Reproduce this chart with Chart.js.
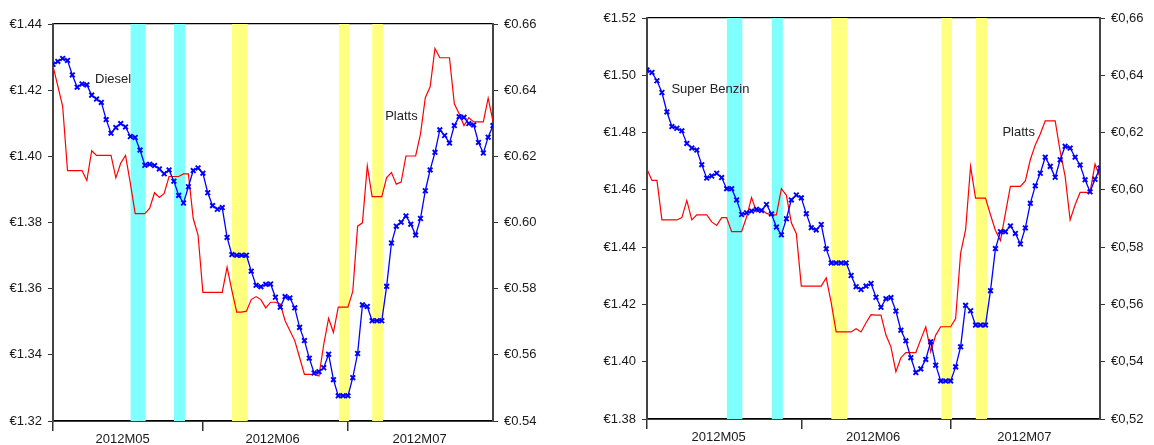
<!DOCTYPE html>
<html>
<head>
<meta charset="utf-8">
<script src="https://cdn.jsdelivr.net/npm/chart.js@4.4.0/dist/chart.umd.min.js"></script>
<style>
  body { margin: 0; background: #fff; width: 1154px; height: 445px; overflow: hidden; position: relative; }
  canvas { position: absolute; top: 0; }
  #diesel { left: 0; }
  #benzin { left: 580px; }
</style>
</head>
<body>
<canvas id="diesel" width="560" height="445"></canvas>
<canvas id="benzin" width="574" height="445"></canvas>
<script>
// days counted from 2012-05-01 (index 0) to 2012-07-31 (index 91)
const monthLabels = ['2012M05', '2012M06', '2012M07']
const monthStarts = [0, 31, 61]
const monthMids = [14.4, 45.4, 75.8]
const lastDay = 91

// pump prices (left axis), daily
const dieselPump = [
  1.4278, 1.4287, 1.4296, 1.4290, 1.4246, 1.4209, 1.4219, 1.4216, 1.4185, 1.4173,
  1.4163, 1.4111, 1.4070, 1.4087, 1.4099, 1.4089, 1.4060, 1.4057, 1.4019, 1.3973,
  1.3976, 1.3972, 1.3962, 1.3947, 1.3959, 1.3925, 1.3882, 1.3859, 1.3908, 1.3957,
  1.3965, 1.3949, 1.3890, 1.3851, 1.3840, 1.3845, 1.3755, 1.3703, 1.3701, 1.3701,
  1.3701, 1.3653, 1.3610, 1.3606, 1.3613, 1.3614, 1.3574, 1.3544, 1.3576, 1.3572,
  1.3542, 1.3483, 1.3443, 1.3390, 1.3345, 1.3349, 1.3361, 1.3402, 1.3325, 1.3276,
  1.3276, 1.3276, 1.3331, 1.3404, 1.3551, 1.3546, 1.3503, 1.3503, 1.3503, 1.3607,
  1.3738, 1.3789, 1.3801, 1.3820, 1.3795, 1.3762, 1.3812, 1.3896, 1.3959, 1.4012,
  1.4080, 1.4063, 1.4040, 1.4093, 1.4120, 1.4118, 1.4099, 1.4095, 1.4042, 1.4010,
  1.4058, 1.4093
]
const benzinPump = [
  1.5018, 1.5010, 1.4981, 1.4940, 1.4872, 1.4821, 1.4815, 1.4806, 1.4762, 1.4746,
  1.4739, 1.4688, 1.4641, 1.4648, 1.4658, 1.4643, 1.4604, 1.4604, 1.4565, 1.4514,
  1.4520, 1.4526, 1.4532, 1.4528, 1.4549, 1.4516, 1.4470, 1.4443, 1.4499, 1.4565,
  1.4582, 1.4572, 1.4517, 1.4468, 1.4460, 1.4479, 1.4394, 1.4345, 1.4345, 1.4345,
  1.4345, 1.4301, 1.4262, 1.4252, 1.4264, 1.4273, 1.4225, 1.4190, 1.4220, 1.4224,
  1.4177, 1.4110, 1.4073, 1.4014, 1.3962, 1.3975, 1.4008, 1.4070, 1.3988, 1.3933,
  1.3933, 1.3933, 1.3982, 1.4052, 1.4197, 1.4178, 1.4128, 1.4128, 1.4128, 1.4248,
  1.4395, 1.4454, 1.4454, 1.4474, 1.4448, 1.4411, 1.4467, 1.4553, 1.4614, 1.4658,
  1.4714, 1.4682, 1.4644, 1.4705, 1.4752, 1.4746, 1.4714, 1.4687, 1.4635, 1.4593,
  1.4637, 1.4676
]

// Platts quotes (right axis)
const dieselPlatts = [
  0.6473, 0.6412, 0.6351, 0.6157, 0.6157, 0.6157, 0.6157, 0.6127, 0.6217, 0.6203,
  0.6203, 0.6203, 0.6203, 0.6135, 0.6179, 0.6203, 0.6118, 0.6027, 0.6027, 0.6027,
  0.6043, 0.6090, 0.6076, 0.6088, 0.6139, 0.6139, 0.6139, 0.6147, 0.6147, 0.6012,
  0.5962, 0.5789, 0.5789, 0.5789, 0.5789, 0.5789, 0.5865, 0.5794, 0.5729, 0.5729,
  0.5732, 0.5767, 0.5776, 0.5767, 0.5742, 0.5759, 0.5759, 0.5754, 0.5703, 0.5673,
  0.5643, 0.5592, 0.5541, 0.5541, 0.5541, 0.5536, 0.5632, 0.5710, 0.5668, 0.5744,
  0.5744, 0.5744, 0.5792, 0.5989, 0.5999, 0.6171, 0.6078, 0.6078, 0.6078, 0.6136,
  0.6151, 0.6116, 0.6122, 0.6201, 0.6201, 0.6201, 0.6267, 0.6377, 0.6410, 0.6526,
  0.6498, 0.6498, 0.6498, 0.6359, 0.6329, 0.6293, 0.6317, 0.6304, 0.6304, 0.6304,
  0.6376, 0.6306
]
const benzinPlatts = [
  0.6072, 0.6033, 0.6033, 0.5895, 0.5895, 0.5895, 0.5895, 0.5903, 0.5963, 0.5895,
  0.5913, 0.5913, 0.5913, 0.5888, 0.5876, 0.5903, 0.5903, 0.5854, 0.5854, 0.5854,
  0.5905, 0.5973, 0.5923, 0.5932, 0.5918, 0.5913, 0.5913, 0.6004, 0.5981, 0.5885,
  0.5847, 0.5664, 0.5664, 0.5664, 0.5664, 0.5664, 0.5693, 0.5606, 0.5504, 0.5504,
  0.5504, 0.5504, 0.5515, 0.5504, 0.5536, 0.5564, 0.5563, 0.5563, 0.5493, 0.5452,
  0.5365, 0.5414, 0.5432, 0.5432, 0.5432, 0.5478, 0.5522, 0.5435, 0.5493, 0.5522,
  0.5522, 0.5522, 0.5551, 0.5779, 0.5860, 0.6082, 0.5971, 0.5971, 0.5971, 0.5913,
  0.5858, 0.5823, 0.5918, 0.6012, 0.6012, 0.6012, 0.6031, 0.6105, 0.6157, 0.6195,
  0.6241, 0.6241, 0.6241, 0.6134, 0.6047, 0.5895, 0.5948, 0.5991, 0.5991, 0.5991,
  0.6090, 0.6044
]

// shaded periods, in day index
const cyanStart = [16, 25]
const cyanEnd = [19.2, 27.3]
const yellowStart = [37, 59.1, 66]
const yellowEnd = [40.3, 61.3, 68.3]

const FONT = '"Liberation Sans", Arial, sans-serif'
const TEXT = '#1a1a1a'
Chart.defaults.font.family = FONT

const notes = {
    id: 'notes',
    afterDatasetsDraw(chart, args, opts) {
        const { ctx, scales } = chart
        ctx.save()
        ctx.font = '13px ' + FONT
        ctx.fillStyle = '#222'
        ctx.textBaseline = 'middle'
        opts.items.forEach(n => {
            ctx.fillText(n.text, scales.x.getPixelForValue(n.day), scales.y.getPixelForValue(n.value))
        })
        ctx.restore()
    }
}

function band(start, end, color, top) {
    return {
        type: 'line',
        data: [{ x: start, y: top }, { x: end, y: top }],
        yAxisID: 'y',
        fill: 'start',
        backgroundColor: color,
        borderColor: 'rgba(0,0,0,0)',
        borderWidth: 0,
        pointRadius: 0,
        order: 10
    }
}

function makeChart(canvas, s) {
    const bands = []
    cyanStart.forEach((v, k) => bands.push(band(v, cyanEnd[k], '#80ffff', s.leftMax)))
    yellowStart.forEach((v, k) => bands.push(band(v, yellowEnd[k], '#ffff80', s.leftMax)))

    const ticksSorted = monthStarts.concat(monthMids).sort((a, b) => a - b)

    return new Chart(canvas, {
        type: 'line',
        data: {
            datasets: [
                ...bands,
                {
                    label: 'Platts',
                    data: s.platts.map((v, i) => ({ x: i, y: v })),
                    yAxisID: 'y1',
                    borderColor: '#ff0000',
                    borderWidth: 1.2,
                    pointRadius: 0,
                    tension: 0,
                    order: 2
                },
                {
                    label: s.name,
                    data: s.pump.map((v, i) => ({ x: i, y: v })),
                    yAxisID: 'y',
                    borderColor: '#0000ff',
                    borderWidth: 1.3,
                    pointStyle: 'crossRot',
                    pointRadius: 3.3,
                    pointBorderWidth: 1.9,
                    pointBorderColor: '#0000ff',
                    tension: 0,
                    order: 1
                }
            ]
        },
        options: {
            responsive: false,
            animation: false,
            layout: { padding: { top: s.top, left: 0, right: 0, bottom: 0 } },
            plugins: {
                legend: { display: false },
                tooltip: { enabled: false },
                notes: { items: s.notes }
            },
            scales: {
                x: {
                    type: 'linear',
                    min: 0,
                    max: lastDay,
                    afterBuildTicks: sc => { sc.ticks = ticksSorted.map(v => ({ value: v })) },
                    ticks: {
                        autoSkip: false,
                        maxRotation: 0,
                        padding: 1,
                        color: TEXT,
                        font: { size: 13 },
                        callback: v => {
                            const k = monthMids.indexOf(v)
                            return k < 0 ? '' : monthLabels[k]
                        }
                    },
                    grid: {
                        drawOnChartArea: false,
                        tickLength: 10,
                        lineWidth: 1.5,
                        color: c => (c.tick && monthStarts.includes(c.tick.value)) ? '#333' : 'rgba(0,0,0,0)'
                    },
                    border: { color: '#000', width: 1.8 },
                    afterFit: sc => { sc.height = s.xHeight }
                },
                xTop: {
                    type: 'linear',
                    position: 'top',
                    ticks: { display: false },
                    grid: { display: false, drawTicks: false },
                    border: { color: '#000', width: 1.2 },
                    afterFit: sc => { sc.height = 0 }
                },
                y: {
                    position: 'left',
                    min: s.leftMin,
                    max: s.leftMax,
                    ticks: {
                        stepSize: 0.02,
                        padding: 6,
                        color: TEXT,
                        font: { size: 13 },
                        callback: v => '€' + v.toFixed(2)
                    },
                    grid: { drawOnChartArea: false, tickLength: 5, color: '#333' },
                    border: { color: '#444', width: 2 },
                    afterFit: sc => { sc.width = s.leftW }
                },
                y1: {
                    position: 'right',
                    min: s.rightMin,
                    max: s.rightMax,
                    ticks: {
                        stepSize: 0.02,
                        padding: 6,
                        color: TEXT,
                        font: { size: 13 },
                        callback: v => '€' + v.toFixed(2).replace('.', s.sep)
                    },
                    grid: { drawOnChartArea: false, tickLength: 5, color: '#333' },
                    border: { color: '#444', width: 2 },
                    afterFit: sc => { sc.width = s.rightW }
                }
            }
        },
        plugins: [notes]
    })
}

makeChart(document.querySelector('#diesel'), {
    name: 'Diesel',
    pump: dieselPump,
    platts: dieselPlatts,
    leftMin: 1.32, leftMax: 1.44,
    rightMin: 0.54, rightMax: 0.66,
    sep: '.',
    top: 24, xHeight: 24, leftW: 53, rightW: 67,
    notes: [
        { text: 'Diesel', day: 8.7, value: 1.4233 },
        { text: 'Platts', day: 68.7, value: 1.412 }
    ]
})

makeChart(document.querySelector('#benzin'), {
    name: 'Super Benzin',
    pump: benzinPump,
    platts: benzinPlatts,
    leftMin: 1.38, leftMax: 1.52,
    rightMin: 0.52, rightMax: 0.66,
    sep: ',',
    top: 18, xHeight: 26, leftW: 67, rightW: 54,
    notes: [
        { text: 'Super Benzin', day: 4.9, value: 1.4952 },
        { text: 'Platts', day: 71.4, value: 1.48 }
    ]
})
</script>
</body>
</html>
